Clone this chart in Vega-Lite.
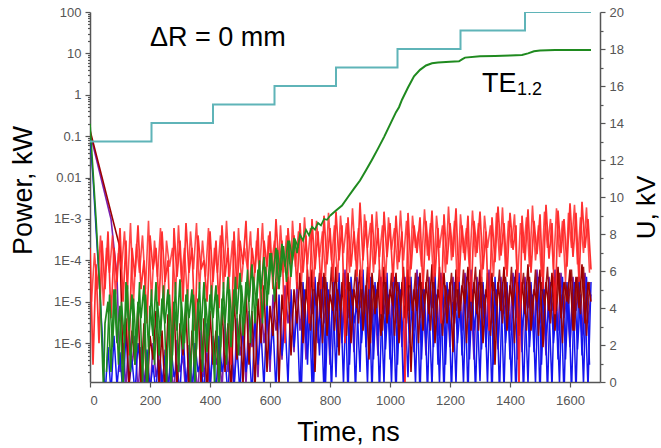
{
"$schema": "https://vega.github.io/schema/vega-lite/v6.json",
"width": 510, "height": 370,
"autosize": {"type": "none"},
"padding": {"left": 90, "top": 12, "right": 61, "bottom": 66},
"background": "white",
"config": {
 "view": {"stroke": null},
 "font": "Liberation Sans",
 "axis": {"grid": false, "labelFont": "Liberation Sans", "labelFontSize": 13, "labelColor": "#555555", "domainColor": "#555555", "domainWidth": 1.5, "tickColor": "#555555", "tickWidth": 1.2, "titleFont": "Liberation Sans", "titleFontWeight": "normal", "titleColor": "#000000", "titleFontSize": 27}
},
"datasets": {
 "red": [{"t":0,"p":2e-4},{"t":10,"p":3e-7},{"t":20,"p":8e-5},{"t":30,"p":1e-6},{"t":40,"p":3e-4},{"t":50,"p":2e-5},{"t":60,"p":5e-4},{"t":70,"p":4e-6},{"t":80,"p":2e-4},{"t":90,"p":3e-5},{"t":100,"p":6e-4},{"t":110,"p":1e-5},{"t":120,"p":3e-4},{"t":130,"p":5e-7},{"t":140,"p":2e-4},{"t":150,"p":4e-5},{"t":160,"p":7e-4},{"t":170,"p":2e-5},{"t":180,"p":1e-4},{"t":190,"p":3e-6},{"t":200,"p":4e-4},{"t":210,"p":6e-5},{"t":220,"p":2e-4},{"t":230,"p":8e-6},{"t":240,"p":5e-4},{"t":250,"p":3e-5},{"t":260,"p":1e-4},{"t":270,"p":2e-7},{"t":280,"p":6e-4},{"t":290,"p":4e-5},{"t":300,"p":3e-4},{"t":310,"p":1e-5},{"t":320,"p":8e-4},{"t":330,"p":5e-5},{"t":340,"p":2e-4},{"t":350,"p":2e-6},{"t":360,"p":4e-4},{"t":370,"p":6e-5},{"t":380,"p":1e-4},{"t":390,"p":1e-5},{"t":400,"p":5e-4},{"t":410,"p":3e-5},{"t":420,"p":3e-4},{"t":430,"p":7e-6},{"t":440,"p":7e-4},{"t":450,"p":4e-5},{"t":460,"p":2e-4},{"t":470,"p":3e-7},{"t":480,"p":5e-4},{"t":490,"p":2e-5},{"t":500,"p":3e-4},{"t":510,"p":8e-5},{"t":520,"p":9e-4},{"t":530,"p":1e-5},{"t":540,"p":2e-4},{"t":550,"p":5e-5},{"t":560,"p":6e-4},{"t":570,"p":4e-6},{"t":580,"p":3e-4},{"t":590,"p":7e-5},{"t":600,"p":5e-4},{"t":610,"p":2e-5},{"t":620,"p":1e-3},{"t":630,"p":6e-5},{"t":640,"p":3e-4},{"t":650,"p":1e-6},{"t":660,"p":6e-4},{"t":670,"p":8e-5},{"t":680,"p":4e-4},{"t":690,"p":2e-5},{"t":700,"p":8e-4},{"t":710,"p":5e-5},{"t":720,"p":4e-4},{"t":730,"p":3e-6},{"t":740,"p":1e-3},{"t":750,"p":6e-5},{"t":760,"p":5e-4},{"t":770,"p":2e-5},{"t":780,"p":1.2e-3},{"t":790,"p":8e-5},{"t":800,"p":6e-4},{"t":810,"p":3e-5},{"t":820,"p":1.5e-3},{"t":830,"p":1e-4},{"t":840,"p":7e-4},{"t":850,"p":1e-6},{"t":860,"p":1.1e-3},{"t":870,"p":7e-5},{"t":880,"p":5e-4},{"t":890,"p":4e-5},{"t":900,"p":2.5e-3},{"t":910,"p":1e-4},{"t":920,"p":9e-4},{"t":930,"p":2e-5},{"t":940,"p":1.3e-3},{"t":950,"p":8e-5},{"t":960,"p":6e-4},{"t":970,"p":5e-6},{"t":980,"p":1.5e-3},{"t":990,"p":1.2e-4},{"t":1000,"p":8e-4},{"t":1010,"p":3e-5},{"t":1020,"p":1.2e-3},{"t":1030,"p":9e-5},{"t":1040,"p":5e-4},{"t":1050,"p":1e-7},{"t":1060,"p":1.4e-3},{"t":1070,"p":6e-5},{"t":1080,"p":7e-4},{"t":1090,"p":1.5e-4},{"t":1100,"p":1.1e-3},{"t":1110,"p":2e-5},{"t":1120,"p":9e-4},{"t":1130,"p":1e-4},{"t":1140,"p":1.6e-3},{"t":1150,"p":4e-5},{"t":1160,"p":6e-4},{"t":1170,"p":3e-6},{"t":1180,"p":1.3e-3},{"t":1190,"p":8e-5},{"t":1200,"p":8e-4},{"t":1210,"p":1.2e-4},{"t":1220,"p":1.8e-3},{"t":1230,"p":3e-5},{"t":1240,"p":7e-4},{"t":1250,"p":1e-4},{"t":1260,"p":1.2e-3},{"t":1270,"p":1e-5},{"t":1280,"p":9e-4},{"t":1290,"p":1.5e-4},{"t":1300,"p":1.5e-3},{"t":1310,"p":6e-5},{"t":1320,"p":5e-4},{"t":1330,"p":2e-6},{"t":1340,"p":1.1e-3},{"t":1350,"p":9e-5},{"t":1360,"p":2e-3},{"t":1370,"p":1.3e-4},{"t":1380,"p":8e-4},{"t":1390,"p":4e-5},{"t":1400,"p":1.4e-3},{"t":1410,"p":1.8e-4},{"t":1420,"p":7e-4},{"t":1430,"p":8e-8},{"t":1440,"p":1.2e-3},{"t":1450,"p":1e-4},{"t":1460,"p":1.7e-3},{"t":1470,"p":5e-5},{"t":1480,"p":9e-4},{"t":1490,"p":1.4e-4},{"t":1500,"p":1.3e-3},{"t":1510,"p":2e-5},{"t":1520,"p":2.2e-3},{"t":1530,"p":1.1e-4},{"t":1540,"p":8e-4},{"t":1550,"p":5e-6},{"t":1560,"p":1.6e-3},{"t":1570,"p":1.5e-4},{"t":1580,"p":1e-3},{"t":1590,"p":7e-5},{"t":1600,"p":2.4e-3},{"t":1610,"p":1.2e-4},{"t":1620,"p":1.4e-3},{"t":1630,"p":3e-5},{"t":1640,"p":2.6e-3},{"t":1650,"p":2e-4},{"t":1660,"p":1e-3},{"t":1670,"p":6e-5}],
 "red2": [{"t":5,"p":1e-5},{"t":15,"p":1.5e-4},{"t":25,"p":2e-5},{"t":35,"p":4e-4},{"t":45,"p":8e-6},{"t":55,"p":2e-4},{"t":65,"p":5e-5},{"t":75,"p":4e-4},{"t":85,"p":1.5e-5},{"t":95,"p":1.5e-4},{"t":105,"p":6e-5},{"t":115,"p":5e-4},{"t":125,"p":2e-5},{"t":135,"p":8e-4},{"t":145,"p":1e-5},{"t":155,"p":2.5e-4},{"t":165,"p":5e-5},{"t":175,"p":4e-4},{"t":185,"p":2e-5},{"t":195,"p":9e-4},{"t":205,"p":1e-5},{"t":215,"p":3e-4},{"t":225,"p":4e-5},{"t":235,"p":6e-4},{"t":245,"p":5e-6},{"t":255,"p":3e-4},{"t":265,"p":7e-5},{"t":275,"p":2e-4},{"t":285,"p":1.5e-5},{"t":295,"p":7e-4},{"t":305,"p":3e-5},{"t":315,"p":2e-4},{"t":325,"p":1e-5},{"t":335,"p":5e-4},{"t":345,"p":6e-5},{"t":355,"p":8e-4},{"t":365,"p":2e-5},{"t":375,"p":3e-4},{"t":385,"p":4e-5},{"t":395,"p":6e-4},{"t":405,"p":1e-5},{"t":415,"p":2e-4},{"t":425,"p":5e-5},{"t":435,"p":4e-4},{"t":445,"p":2e-5},{"t":455,"p":9e-4},{"t":465,"p":4e-5},{"t":475,"p":3e-4},{"t":485,"p":8e-6},{"t":495,"p":6e-4},{"t":505,"p":3e-5},{"t":515,"p":2e-4},{"t":525,"p":6e-5},{"t":535,"p":5e-4},{"t":545,"p":1.5e-5},{"t":555,"p":3e-4},{"t":565,"p":5e-5},{"t":575,"p":8e-4},{"t":585,"p":2e-5},{"t":595,"p":4e-4},{"t":605,"p":8e-5},{"t":615,"p":3e-4},{"t":625,"p":2e-5},{"t":635,"p":7e-4},{"t":645,"p":5e-5},{"t":655,"p":4e-4},{"t":665,"p":1e-5},{"t":675,"p":9e-4},{"t":685,"p":7e-5},{"t":695,"p":5e-4},{"t":705,"p":3e-5},{"t":715,"p":1.1e-3},{"t":725,"p":8e-5},{"t":735,"p":6e-4},{"t":745,"p":2e-5},{"t":755,"p":9e-4},{"t":765,"p":1.2e-4},{"t":775,"p":5e-4},{"t":785,"p":4e-5},{"t":795,"p":1.4e-3},{"t":805,"p":1e-4},{"t":815,"p":7e-4},{"t":825,"p":3e-5},{"t":835,"p":1.2e-3},{"t":845,"p":1.5e-4},{"t":855,"p":8e-4},{"t":865,"p":5e-5},{"t":875,"p":1.8e-3},{"t":885,"p":1e-4},{"t":895,"p":6e-4},{"t":905,"p":2e-5},{"t":915,"p":1.3e-3},{"t":925,"p":2e-4},{"t":935,"p":8e-4},{"t":945,"p":5e-5},{"t":955,"p":1.5e-3},{"t":965,"p":1.2e-4},{"t":975,"p":7e-4},{"t":985,"p":3e-5},{"t":995,"p":1.1e-3},{"t":1005,"p":1.8e-4},{"t":1015,"p":6e-4},{"t":1025,"p":6e-5},{"t":1035,"p":1.6e-3},{"t":1045,"p":1e-4},{"t":1055,"p":9e-4},{"t":1065,"p":2.5e-5},{"t":1075,"p":1.2e-3},{"t":1085,"p":2e-4},{"t":1095,"p":5e-4},{"t":1105,"p":7e-5},{"t":1115,"p":1.7e-3},{"t":1125,"p":1.3e-4},{"t":1135,"p":8e-4},{"t":1145,"p":3e-5},{"t":1155,"p":1.2e-3},{"t":1165,"p":2e-4},{"t":1175,"p":7e-4},{"t":1185,"p":5e-5},{"t":1195,"p":2e-3},{"t":1205,"p":1e-4},{"t":1215,"p":9e-4},{"t":1225,"p":2e-5},{"t":1235,"p":1.3e-3},{"t":1245,"p":1.5e-4},{"t":1255,"p":6e-4},{"t":1265,"p":6e-5},{"t":1275,"p":1.6e-3},{"t":1285,"p":1.2e-4},{"t":1295,"p":8e-4},{"t":1305,"p":3e-5},{"t":1315,"p":1.2e-3},{"t":1325,"p":2e-4},{"t":1335,"p":7e-4},{"t":1345,"p":4e-5},{"t":1355,"p":1.4e-3},{"t":1365,"p":1e-4},{"t":1375,"p":1.9e-3},{"t":1385,"p":6e-5},{"t":1395,"p":9e-4},{"t":1405,"p":2e-4},{"t":1415,"p":1.3e-3},{"t":1425,"p":3e-5},{"t":1435,"p":8e-4},{"t":1445,"p":1.5e-4},{"t":1455,"p":1.1e-3},{"t":1465,"p":7e-5},{"t":1475,"p":2.1e-3},{"t":1485,"p":1e-4},{"t":1495,"p":7e-4},{"t":1505,"p":4e-5},{"t":1515,"p":1.5e-3},{"t":1525,"p":2e-4},{"t":1535,"p":1e-3},{"t":1545,"p":6e-5},{"t":1555,"p":1.8e-3},{"t":1565,"p":1.2e-4},{"t":1575,"p":9e-4},{"t":1585,"p":3e-5},{"t":1595,"p":1.4e-3},{"t":1605,"p":2e-4},{"t":1615,"p":2.2e-3},{"t":1625,"p":8e-5},{"t":1635,"p":1.1e-3},{"t":1645,"p":1.5e-4},{"t":1655,"p":1.9e-3},{"t":1665,"p":5e-5}],
 "blue": [{"t":0,"p":0.1},{"t":10,"p":1e-2},{"t":20,"p":6e-4},{"t":30,"p":4e-5},{"t":40,"p":2e-6},{"t":50,"p":5e-8},{"t":60,"p":8e-7},{"t":70,"p":6e-8},{"t":80,"p":1.5e-6},{"t":90,"p":9e-8},{"t":100,"p":6e-7},{"t":110,"p":5e-8},{"t":120,"p":2e-6},{"t":130,"p":1e-7},{"t":140,"p":4e-7},{"t":150,"p":6e-8},{"t":160,"p":1e-6},{"t":170,"p":2e-7},{"t":180,"p":5e-8},{"t":190,"p":7e-7},{"t":200,"p":8e-8},{"t":210,"p":3e-7},{"t":220,"p":6e-8},{"t":230,"p":1.2e-6},{"t":240,"p":1e-7},{"t":250,"p":5e-7},{"t":260,"p":5e-8},{"t":270,"p":8e-7},{"t":280,"p":1.5e-7},{"t":290,"p":3e-7},{"t":300,"p":6e-8},{"t":310,"p":2e-6},{"t":320,"p":9e-8},{"t":330,"p":6e-7},{"t":340,"p":5e-8},{"t":350,"p":1e-6},{"t":360,"p":2e-7},{"t":370,"p":4e-7},{"t":380,"p":5e-8},{"t":390,"p":3e-6},{"t":400,"p":1e-7},{"t":410,"p":7e-7},{"t":420,"p":6e-8},{"t":430,"p":1.5e-6},{"t":440,"p":2e-7},{"t":450,"p":5e-7},{"t":460,"p":5e-8},{"t":470,"p":2.5e-6},{"t":480,"p":1e-7},{"t":490,"p":8e-7},{"t":500,"p":6e-8},{"t":510,"p":4e-6},{"t":520,"p":2e-7},{"t":530,"p":1e-6},{"t":540,"p":5e-8},{"t":550,"p":6e-6},{"t":560,"p":3e-7},{"t":570,"p":2e-6},{"t":580,"p":8e-8},{"t":590,"p":1e-5},{"t":600,"p":4e-7},{"t":610,"p":3e-6},{"t":620,"p":6e-8},{"t":630,"p":1.5e-5},{"t":640,"p":5e-7},{"t":650,"p":4e-6},{"t":660,"p":1e-7},{"t":670,"p":2e-5},{"t":680,"p":8e-7},{"t":690,"p":6e-6},{"t":700,"p":5e-8},{"t":710,"p":3e-5},{"t":720,"p":1e-6},{"t":730,"p":1e-5},{"t":740,"p":1e-7},{"t":750,"p":4e-5},{"t":760,"p":2e-6},{"t":770,"p":8e-6},{"t":780,"p":6e-8},{"t":790,"p":3e-5},{"t":800,"p":5e-7},{"t":810,"p":1.5e-5},{"t":820,"p":1.5e-7},{"t":830,"p":5e-5},{"t":840,"p":1e-6},{"t":850,"p":2e-5},{"t":860,"p":5e-8},{"t":870,"p":4e-5},{"t":880,"p":3e-6},{"t":890,"p":9e-6},{"t":900,"p":2e-7},{"t":910,"p":6e-5},{"t":920,"p":8e-7},{"t":930,"p":2e-5},{"t":940,"p":6e-8},{"t":950,"p":3e-5},{"t":960,"p":1.5e-6},{"t":970,"p":1e-5},{"t":980,"p":1e-7},{"t":990,"p":5e-5},{"t":1000,"p":4e-7},{"t":1010,"p":1.5e-5},{"t":1020,"p":5e-8},{"t":1030,"p":3e-5},{"t":1040,"p":2e-6},{"t":1050,"p":8e-6},{"t":1060,"p":1.5e-7},{"t":1070,"p":4e-5},{"t":1080,"p":6e-7},{"t":1090,"p":2e-5},{"t":1100,"p":5e-8},{"t":1110,"p":3e-5},{"t":1120,"p":1e-6},{"t":1130,"p":7e-6},{"t":1140,"p":8e-8},{"t":1150,"p":5e-5},{"t":1160,"p":3e-7},{"t":1170,"p":1.2e-5},{"t":1180,"p":6e-8},{"t":1190,"p":3e-5},{"t":1200,"p":1.5e-6},{"t":1210,"p":1e-5},{"t":1220,"p":1e-7},{"t":1230,"p":4e-5},{"t":1240,"p":5e-7},{"t":1250,"p":2e-5},{"t":1260,"p":5e-8},{"t":1270,"p":6e-5},{"t":1280,"p":2e-6},{"t":1290,"p":9e-6},{"t":1300,"p":1.2e-7},{"t":1310,"p":3e-5},{"t":1320,"p":8e-7},{"t":1330,"p":1.5e-5},{"t":1340,"p":5e-8},{"t":1350,"p":4e-5},{"t":1360,"p":1e-6},{"t":1370,"p":2e-5},{"t":1380,"p":7e-8},{"t":1390,"p":3e-5},{"t":1400,"p":4e-7},{"t":1410,"p":1.2e-5},{"t":1420,"p":5e-8},{"t":1430,"p":5e-5},{"t":1440,"p":2e-6},{"t":1450,"p":1e-5},{"t":1460,"p":1e-7},{"t":1470,"p":3e-5},{"t":1480,"p":6e-7},{"t":1490,"p":2e-5},{"t":1500,"p":5e-8},{"t":1510,"p":4e-5},{"t":1520,"p":1.5e-6},{"t":1530,"p":8e-6},{"t":1540,"p":8e-8},{"t":1550,"p":6e-5},{"t":1560,"p":4e-7},{"t":1570,"p":1.5e-5},{"t":1580,"p":5e-8},{"t":1590,"p":3e-5},{"t":1600,"p":1e-6},{"t":1610,"p":2e-5},{"t":1620,"p":6e-8},{"t":1630,"p":4e-5},{"t":1640,"p":5e-7},{"t":1650,"p":1e-5},{"t":1660,"p":8e-8},{"t":1670,"p":3e-5}],
 "blue2": [{"t":705,"p":1e-7},{"t":715,"p":2e-5},{"t":725,"p":3e-7},{"t":735,"p":3e-5},{"t":745,"p":8e-8},{"t":755,"p":1e-5},{"t":765,"p":5e-7},{"t":775,"p":4e-5},{"t":785,"p":1e-7},{"t":795,"p":2e-5},{"t":805,"p":6e-8},{"t":815,"p":3e-5},{"t":825,"p":8e-7},{"t":835,"p":1.5e-5},{"t":845,"p":1e-7},{"t":855,"p":4e-5},{"t":865,"p":3e-7},{"t":875,"p":2e-5},{"t":885,"p":6e-8},{"t":895,"p":3e-5},{"t":905,"p":1e-6},{"t":915,"p":1e-5},{"t":925,"p":1e-7},{"t":935,"p":4e-5},{"t":945,"p":4e-7},{"t":955,"p":2e-5},{"t":965,"p":6e-8},{"t":975,"p":3e-5},{"t":985,"p":7e-7},{"t":995,"p":1.5e-5},{"t":1005,"p":1e-7},{"t":1015,"p":4e-5},{"t":1025,"p":3e-7},{"t":1035,"p":2e-5},{"t":1045,"p":6e-8},{"t":1055,"p":3e-5},{"t":1065,"p":1e-6},{"t":1075,"p":1e-5},{"t":1085,"p":1e-7},{"t":1095,"p":4e-5},{"t":1105,"p":4e-7},{"t":1115,"p":2e-5},{"t":1125,"p":6e-8},{"t":1135,"p":3e-5},{"t":1145,"p":8e-7},{"t":1155,"p":1.5e-5},{"t":1165,"p":1e-7},{"t":1175,"p":4e-5},{"t":1185,"p":3e-7},{"t":1195,"p":2e-5},{"t":1205,"p":6e-8},{"t":1215,"p":3e-5},{"t":1225,"p":1e-6},{"t":1235,"p":1e-5},{"t":1245,"p":1e-7},{"t":1255,"p":4e-5},{"t":1265,"p":4e-7},{"t":1275,"p":2e-5},{"t":1285,"p":6e-8},{"t":1295,"p":3e-5},{"t":1305,"p":7e-7},{"t":1315,"p":1.5e-5},{"t":1325,"p":1e-7},{"t":1335,"p":4e-5},{"t":1345,"p":3e-7},{"t":1355,"p":2e-5},{"t":1365,"p":6e-8},{"t":1375,"p":3e-5},{"t":1385,"p":1e-6},{"t":1395,"p":1e-5},{"t":1405,"p":1e-7},{"t":1415,"p":4e-5},{"t":1425,"p":4e-7},{"t":1435,"p":2e-5},{"t":1445,"p":6e-8},{"t":1455,"p":3e-5},{"t":1465,"p":8e-7},{"t":1475,"p":1.5e-5},{"t":1485,"p":1e-7},{"t":1495,"p":4e-5},{"t":1505,"p":3e-7},{"t":1515,"p":2e-5},{"t":1525,"p":6e-8},{"t":1535,"p":3e-5},{"t":1545,"p":1e-6},{"t":1555,"p":1e-5},{"t":1565,"p":1e-7},{"t":1575,"p":4e-5},{"t":1585,"p":4e-7},{"t":1595,"p":2e-5},{"t":1605,"p":6e-8},{"t":1615,"p":3e-5},{"t":1625,"p":7e-7},{"t":1635,"p":1.5e-5},{"t":1645,"p":1e-7},{"t":1655,"p":4e-5},{"t":1665,"p":3e-7}],
 "darkred": [{"t":0,"p":0.14},{"t":100,"p":2e-4},{"t":110,"p":3e-7},{"t":120,"p":4e-6},{"t":130,"p":8e-8},{"t":140,"p":2e-6},{"t":150,"p":3e-7},{"t":160,"p":8e-6},{"t":170,"p":1e-7},{"t":180,"p":3e-6},{"t":190,"p":5e-8},{"t":200,"p":1.5e-6},{"t":210,"p":4e-7},{"t":220,"p":6e-6},{"t":230,"p":1e-7},{"t":240,"p":2e-6},{"t":250,"p":6e-8},{"t":260,"p":5e-6},{"t":270,"p":2e-7},{"t":280,"p":1e-5},{"t":290,"p":8e-8},{"t":300,"p":3e-6},{"t":310,"p":5e-7},{"t":320,"p":7e-6},{"t":330,"p":6e-8},{"t":340,"p":2e-6},{"t":350,"p":2e-7},{"t":360,"p":1.2e-5},{"t":370,"p":1e-7},{"t":380,"p":4e-6},{"t":390,"p":5e-8},{"t":400,"p":6e-6},{"t":410,"p":3e-7},{"t":420,"p":2e-6},{"t":430,"p":7e-8},{"t":440,"p":9e-6},{"t":450,"p":2e-7},{"t":460,"p":3e-6},{"t":470,"p":6e-8},{"t":480,"p":1.5e-5},{"t":490,"p":4e-7},{"t":500,"p":5e-6},{"t":510,"p":1e-7},{"t":520,"p":2e-5},{"t":530,"p":3e-7},{"t":540,"p":6e-6},{"t":550,"p":8e-8},{"t":560,"p":1.2e-5},{"t":570,"p":1e-6},{"t":580,"p":2.5e-5},{"t":590,"p":2e-7},{"t":600,"p":8e-6},{"t":610,"p":1.5e-6},{"t":620,"p":3e-5},{"t":630,"p":1e-7},{"t":640,"p":1.5e-5},{"t":650,"p":2e-6},{"t":660,"p":4e-5},{"t":670,"p":5e-7},{"t":680,"p":2e-5},{"t":690,"p":3e-6},{"t":700,"p":5e-5},{"t":710,"p":1e-6},{"t":720,"p":2e-5},{"t":730,"p":5e-6},{"t":740,"p":6e-5},{"t":750,"p":2e-7},{"t":760,"p":3e-5},{"t":770,"p":4e-6},{"t":780,"p":5e-5},{"t":790,"p":1.5e-6},{"t":800,"p":1.5e-5},{"t":810,"p":6e-6},{"t":820,"p":7e-5},{"t":830,"p":5e-7},{"t":840,"p":3e-5},{"t":850,"p":3e-6},{"t":860,"p":5e-5},{"t":870,"p":1e-6},{"t":880,"p":2e-5},{"t":890,"p":7e-6},{"t":900,"p":6e-5},{"t":910,"p":2e-6},{"t":920,"p":2.5e-5},{"t":930,"p":4e-7},{"t":940,"p":5e-5},{"t":950,"p":5e-6},{"t":960,"p":3e-5},{"t":970,"p":1.5e-6},{"t":980,"p":7e-5},{"t":990,"p":3e-6},{"t":1000,"p":2e-5},{"t":1010,"p":8e-6},{"t":1020,"p":5e-5},{"t":1030,"p":1e-6},{"t":1040,"p":3e-5},{"t":1050,"p":4e-6},{"t":1060,"p":6e-5},{"t":1070,"p":2e-7},{"t":1080,"p":2e-5},{"t":1090,"p":6e-6},{"t":1100,"p":5e-5},{"t":1110,"p":2e-6},{"t":1120,"p":3e-5},{"t":1130,"p":5e-6},{"t":1140,"p":8e-5},{"t":1150,"p":1e-6},{"t":1160,"p":2e-5},{"t":1170,"p":7e-6},{"t":1180,"p":5e-5},{"t":1190,"p":3e-6},{"t":1200,"p":3e-5},{"t":1210,"p":6e-7},{"t":1220,"p":6e-5},{"t":1230,"p":4e-6},{"t":1240,"p":2.5e-5},{"t":1250,"p":9e-6},{"t":1260,"p":7e-5},{"t":1270,"p":2e-6},{"t":1280,"p":3e-5},{"t":1290,"p":5e-6},{"t":1300,"p":6e-5},{"t":1310,"p":1e-6},{"t":1320,"p":2e-5},{"t":1330,"p":8e-6},{"t":1340,"p":5e-5},{"t":1350,"p":3e-7},{"t":1360,"p":3e-5},{"t":1370,"p":6e-6},{"t":1380,"p":7e-5},{"t":1390,"p":2e-6},{"t":1400,"p":2.5e-5},{"t":1410,"p":8e-6},{"t":1420,"p":6e-5},{"t":1430,"p":1.5e-6},{"t":1440,"p":3e-5},{"t":1450,"p":5e-6},{"t":1460,"p":8e-5},{"t":1470,"p":2e-6},{"t":1480,"p":2e-5},{"t":1490,"p":1e-5},{"t":1500,"p":6e-5},{"t":1510,"p":8e-7},{"t":1520,"p":3e-5},{"t":1530,"p":6e-6},{"t":1540,"p":5e-5},{"t":1550,"p":2e-6},{"t":1560,"p":7e-5},{"t":1570,"p":4e-6},{"t":1580,"p":3e-5},{"t":1590,"p":1e-5},{"t":1600,"p":6e-5},{"t":1610,"p":2e-6},{"t":1620,"p":4e-5},{"t":1630,"p":7e-6},{"t":1640,"p":8e-5},{"t":1650,"p":3e-6},{"t":1660,"p":3e-5},{"t":1670,"p":1e-5}],
 "darkred2": [{"t":705,"p":3e-5},{"t":715,"p":4e-6},{"t":725,"p":6e-5},{"t":735,"p":2e-6},{"t":745,"p":3e-5},{"t":755,"p":8e-6},{"t":765,"p":5e-5},{"t":775,"p":1e-6},{"t":785,"p":4e-5},{"t":795,"p":5e-6},{"t":805,"p":7e-5},{"t":815,"p":2e-6},{"t":825,"p":2e-5},{"t":835,"p":6e-6},{"t":845,"p":5e-5},{"t":855,"p":1.5e-6},{"t":865,"p":3e-5},{"t":875,"p":8e-6},{"t":885,"p":6e-5},{"t":895,"p":3e-6},{"t":905,"p":4e-5},{"t":915,"p":5e-6},{"t":925,"p":7e-5},{"t":935,"p":1e-6},{"t":945,"p":2.5e-5},{"t":955,"p":7e-6},{"t":965,"p":6e-5},{"t":975,"p":2e-6},{"t":985,"p":4e-5},{"t":995,"p":5e-6},{"t":1005,"p":5e-5},{"t":1015,"p":1.5e-6},{"t":1025,"p":3e-5},{"t":1035,"p":8e-6},{"t":1045,"p":7e-5},{"t":1055,"p":3e-6},{"t":1065,"p":4e-5},{"t":1075,"p":6e-6},{"t":1085,"p":5e-5},{"t":1095,"p":1e-6},{"t":1105,"p":3e-5},{"t":1115,"p":9e-6},{"t":1125,"p":6e-5},{"t":1135,"p":2e-6},{"t":1145,"p":4e-5},{"t":1155,"p":5e-6},{"t":1165,"p":7e-5},{"t":1175,"p":1.5e-6},{"t":1185,"p":2.5e-5},{"t":1195,"p":8e-6},{"t":1205,"p":5e-5},{"t":1215,"p":3e-6},{"t":1225,"p":4e-5},{"t":1235,"p":6e-6},{"t":1245,"p":6e-5},{"t":1255,"p":1e-6},{"t":1265,"p":3e-5},{"t":1275,"p":9e-6},{"t":1285,"p":7e-5},{"t":1295,"p":2e-6},{"t":1305,"p":4e-5},{"t":1315,"p":5e-6},{"t":1325,"p":5e-5},{"t":1335,"p":1.5e-6},{"t":1345,"p":3e-5},{"t":1355,"p":8e-6},{"t":1365,"p":6e-5},{"t":1375,"p":3e-6},{"t":1385,"p":4e-5},{"t":1395,"p":6e-6},{"t":1405,"p":7e-5},{"t":1415,"p":1e-6},{"t":1425,"p":3e-5},{"t":1435,"p":9e-6},{"t":1445,"p":5e-5},{"t":1455,"p":2e-6},{"t":1465,"p":4e-5},{"t":1475,"p":5e-6},{"t":1485,"p":6e-5},{"t":1495,"p":1.5e-6},{"t":1505,"p":3e-5},{"t":1515,"p":8e-6},{"t":1525,"p":7e-5},{"t":1535,"p":3e-6},{"t":1545,"p":4e-5},{"t":1555,"p":6e-6},{"t":1565,"p":5e-5},{"t":1575,"p":1e-6},{"t":1585,"p":3e-5},{"t":1595,"p":9e-6},{"t":1605,"p":6e-5},{"t":1615,"p":2e-6},{"t":1625,"p":4e-5},{"t":1635,"p":5e-6},{"t":1645,"p":7e-5},{"t":1655,"p":1.5e-6},{"t":1665,"p":3e-5}],
 "purple": [{"t":0,"p":0.12},{"t":70,"p":1e-3},{"t":90,"p":4e-5},{"t":100,"p":2e-7},{"t":110,"p":1e-6},{"t":120,"p":8e-8},{"t":130,"p":2e-6},{"t":140,"p":3e-7},{"t":150,"p":1.5e-6},{"t":160,"p":6e-8},{"t":170,"p":8e-7},{"t":180,"p":1e-7},{"t":190,"p":5e-7},{"t":200,"p":5e-8},{"t":210,"p":1e-6},{"t":220,"p":1.5e-7},{"t":230,"p":4e-7},{"t":240,"p":5e-8},{"t":250,"p":7e-7},{"t":260,"p":1e-7},{"t":270,"p":3e-7},{"t":280,"p":6e-8},{"t":290,"p":1.2e-6},{"t":300,"p":2e-7},{"t":310,"p":5e-7},{"t":320,"p":5e-8},{"t":330,"p":9e-7},{"t":340,"p":1e-7},{"t":350,"p":3e-7},{"t":360,"p":6e-8},{"t":370,"p":2e-6},{"t":380,"p":1.5e-7},{"t":390,"p":6e-7},{"t":400,"p":5e-8},{"t":410,"p":1.5e-6},{"t":420,"p":3e-7},{"t":430,"p":8e-7},{"t":440,"p":7e-8},{"t":450,"p":3e-6},{"t":460,"p":2e-7},{"t":470,"p":1e-6},{"t":480,"p":6e-8},{"t":490,"p":4e-6},{"t":500,"p":5e-7},{"t":510,"p":2e-6},{"t":520,"p":1e-7},{"t":530,"p":6e-6},{"t":540,"p":8e-7},{"t":550,"p":3e-6},{"t":560,"p":1.5e-7},{"t":570,"p":1e-5},{"t":580,"p":1e-6},{"t":590,"p":5e-6},{"t":600,"p":2e-7},{"t":610,"p":1.5e-5},{"t":620,"p":2e-6},{"t":630,"p":7e-6},{"t":640,"p":4e-7},{"t":650,"p":2.5e-5},{"t":660,"p":3e-6},{"t":670,"p":1e-5},{"t":680,"p":6e-7},{"t":690,"p":3e-5},{"t":700,"p":2e-6},{"t":710,"p":1.5e-5},{"t":720,"p":4e-7},{"t":730,"p":4e-5},{"t":740,"p":5e-6},{"t":750,"p":2e-5},{"t":760,"p":1e-6},{"t":770,"p":5e-5},{"t":780,"p":3e-6},{"t":790,"p":1.2e-5},{"t":800,"p":3e-7},{"t":810,"p":4e-5},{"t":820,"p":6e-6},{"t":830,"p":2.5e-5},{"t":840,"p":1.5e-6},{"t":850,"p":6e-5},{"t":860,"p":4e-6},{"t":870,"p":1.5e-5},{"t":880,"p":6e-7},{"t":890,"p":4e-5},{"t":900,"p":7e-6},{"t":910,"p":2e-5},{"t":920,"p":2e-6},{"t":930,"p":5e-5},{"t":940,"p":3e-6},{"t":950,"p":1e-5},{"t":960,"p":5e-7},{"t":970,"p":4e-5},{"t":980,"p":5e-6},{"t":990,"p":2e-5},{"t":1000,"p":1.5e-6},{"t":1010,"p":5e-5},{"t":1020,"p":3e-6},{"t":1030,"p":1.5e-5},{"t":1040,"p":8e-7},{"t":1050,"p":4e-5},{"t":1060,"p":6e-6},{"t":1070,"p":2.5e-5},{"t":1080,"p":2e-6},{"t":1090,"p":6e-5},{"t":1100,"p":4e-6},{"t":1110,"p":1.5e-5},{"t":1120,"p":5e-7},{"t":1130,"p":4e-5},{"t":1140,"p":7e-6},{"t":1150,"p":2e-5},{"t":1160,"p":1.5e-6},{"t":1170,"p":5e-5},{"t":1180,"p":3e-6},{"t":1190,"p":1.2e-5},{"t":1200,"p":8e-7},{"t":1210,"p":4e-5},{"t":1220,"p":6e-6},{"t":1230,"p":2e-5},{"t":1240,"p":2e-6},{"t":1250,"p":5e-5},{"t":1260,"p":4e-6},{"t":1270,"p":1.5e-5},{"t":1280,"p":4e-7},{"t":1290,"p":4e-5},{"t":1300,"p":7e-6},{"t":1310,"p":2.5e-5},{"t":1320,"p":1.5e-6},{"t":1330,"p":6e-5},{"t":1340,"p":3e-6},{"t":1350,"p":1.2e-5},{"t":1360,"p":7e-7},{"t":1370,"p":4e-5},{"t":1380,"p":5e-6},{"t":1390,"p":2e-5},{"t":1400,"p":2e-6},{"t":1410,"p":5e-5},{"t":1420,"p":4e-6},{"t":1430,"p":1.5e-5},{"t":1440,"p":6e-7},{"t":1450,"p":4e-5},{"t":1460,"p":7e-6},{"t":1470,"p":2.5e-5},{"t":1480,"p":1.5e-6},{"t":1490,"p":6e-5},{"t":1500,"p":3e-6},{"t":1510,"p":1.2e-5},{"t":1520,"p":5e-7},{"t":1530,"p":4e-5},{"t":1540,"p":6e-6},{"t":1550,"p":2e-5},{"t":1560,"p":2e-6},{"t":1570,"p":5e-5},{"t":1580,"p":4e-6},{"t":1590,"p":1.5e-5},{"t":1600,"p":8e-7},{"t":1610,"p":4e-5},{"t":1620,"p":6e-6},{"t":1630,"p":2e-5},{"t":1640,"p":1.5e-6},{"t":1650,"p":5e-5},{"t":1660,"p":3e-6},{"t":1670,"p":1.5e-5}],
 "greenNoise": [{"t":0,"p":0.2},{"t":20,"p":1e-3},{"t":35,"p":1e-5},{"t":45,"p":8e-8},{"t":50,"p":3e-6},{"t":60,"p":1e-5},{"t":70,"p":2e-7},{"t":80,"p":2e-5},{"t":90,"p":1e-6},{"t":100,"p":8e-6},{"t":110,"p":6e-8},{"t":120,"p":3e-5},{"t":130,"p":2e-6},{"t":140,"p":1.5e-5},{"t":150,"p":3e-7},{"t":160,"p":1e-5},{"t":170,"p":4e-6},{"t":180,"p":2.5e-5},{"t":190,"p":5e-8},{"t":200,"p":8e-6},{"t":210,"p":1.5e-6},{"t":220,"p":3e-5},{"t":230,"p":5e-7},{"t":240,"p":1.2e-5},{"t":250,"p":3e-6},{"t":260,"p":2e-5},{"t":270,"p":8e-8},{"t":280,"p":1e-5},{"t":290,"p":2e-6},{"t":300,"p":3.5e-5},{"t":310,"p":7e-7},{"t":320,"p":1.5e-5},{"t":330,"p":4e-6},{"t":340,"p":2e-5},{"t":350,"p":1e-7},{"t":360,"p":1e-5},{"t":370,"p":2e-6},{"t":380,"p":3e-5},{"t":390,"p":6e-7},{"t":400,"p":1.5e-5},{"t":410,"p":4e-6},{"t":420,"p":2.5e-5},{"t":430,"p":6e-8},{"t":440,"p":1.2e-5},{"t":450,"p":3e-6},{"t":460,"p":4e-5},{"t":470,"p":8e-7},{"t":480,"p":2e-5},{"t":490,"p":5e-6},{"t":500,"p":5e-5},{"t":510,"p":1.5e-6},{"t":520,"p":3e-5},{"t":530,"p":1e-5},{"t":540,"p":8e-5},{"t":550,"p":3e-6},{"t":560,"p":6e-5},{"t":570,"p":2e-5},{"t":580,"p":1.2e-4},{"t":590,"p":8e-6},{"t":600,"p":1.5e-4},{"t":610,"p":4e-5},{"t":620,"p":2e-4},{"t":630,"p":2e-5},{"t":640,"p":2.5e-4},{"t":650,"p":7e-5},{"t":660,"p":3e-4},{"t":670,"p":4e-5},{"t":680,"p":3.5e-4},{"t":690,"p":1.5e-4},{"t":700,"p":4.2e-4},{"t":710,"p":3e-4},{"t":720,"p":5.5e-4},{"t":730,"p":4e-4},{"t":740,"p":6.5e-4},{"t":750,"p":5.5e-4},{"t":760,"p":8e-4},{"t":770,"p":7e-4},{"t":780,"p":1e-3},{"t":790,"p":9.5e-4},{"t":800,"p":1.2e-3}],
 "green2": [{"t":55,"p":2e-7},{"t":65,"p":1.5e-5},{"t":75,"p":8e-7},{"t":85,"p":2e-5},{"t":95,"p":3e-7},{"t":105,"p":1e-5},{"t":115,"p":1e-6},{"t":125,"p":2.5e-5},{"t":135,"p":2e-7},{"t":145,"p":1.2e-5},{"t":155,"p":6e-7},{"t":165,"p":3e-5},{"t":175,"p":1e-7},{"t":185,"p":1.5e-5},{"t":195,"p":8e-7},{"t":205,"p":2e-5},{"t":215,"p":3e-7},{"t":225,"p":1e-5},{"t":235,"p":1.5e-6},{"t":245,"p":2.5e-5},{"t":255,"p":1e-7},{"t":265,"p":1.5e-5},{"t":275,"p":5e-7},{"t":285,"p":3e-5},{"t":295,"p":2e-7},{"t":305,"p":1e-5},{"t":315,"p":1e-6},{"t":325,"p":2e-5},{"t":335,"p":1e-7},{"t":345,"p":1.5e-5},{"t":355,"p":7e-7},{"t":365,"p":3e-5},{"t":375,"p":2e-7},{"t":385,"p":1.2e-5},{"t":395,"p":1.5e-6},{"t":405,"p":2.5e-5},{"t":415,"p":1e-7},{"t":425,"p":1.5e-5},{"t":435,"p":8e-7},{"t":445,"p":3e-5},{"t":455,"p":3e-7},{"t":465,"p":2e-5},{"t":475,"p":2e-6},{"t":485,"p":4e-5},{"t":495,"p":5e-7},{"t":505,"p":2.5e-5},{"t":515,"p":3e-6},{"t":525,"p":6e-5},{"t":535,"p":1e-6},{"t":545,"p":4e-5},{"t":555,"p":8e-6},{"t":565,"p":1e-4},{"t":575,"p":3e-6},{"t":585,"p":7e-5},{"t":595,"p":1.5e-5},{"t":605,"p":1.5e-4},{"t":615,"p":1e-5},{"t":625,"p":1.8e-4},{"t":635,"p":4e-5},{"t":645,"p":2.2e-4},{"t":655,"p":3e-5},{"t":665,"p":3e-4},{"t":675,"p":1e-4},{"t":685,"p":3e-4},{"t":695,"p":2e-4}],
 "greenCurve": [{"t":800,"p":1.2e-3},{"t":820,"p":1.6e-3},{"t":840,"p":2.1e-3},{"t":860,"p":3.4e-3},{"t":880,"p":5.4e-3},{"t":900,"p":8.5e-3},{"t":920,"p":0.015},{"t":940,"p":0.027},{"t":960,"p":0.05},{"t":980,"p":0.095},{"t":1000,"p":0.19},{"t":1020,"p":0.38},{"t":1030,"p":0.5},{"t":1040,"p":0.76},{"t":1060,"p":1.5},{"t":1080,"p":2.8},{"t":1100,"p":4.0},{"t":1120,"p":5.1},{"t":1140,"p":5.75},{"t":1160,"p":6.0},{"t":1200,"p":6.3},{"t":1230,"p":6.45},{"t":1240,"p":7.2},{"t":1250,"p":7.9},{"t":1300,"p":8.5},{"t":1350,"p":8.7},{"t":1400,"p":8.9},{"t":1440,"p":9.1},{"t":1460,"p":10},{"t":1480,"p":11.2},{"t":1500,"p":11.7},{"t":1550,"p":12},{"t":1670,"p":12}],
 "volt": [{"t":0,"v":13},{"t":205,"v":14},{"t":410,"v":15},{"t":615,"v":16},{"t":820,"v":17},{"t":1025,"v":18},{"t":1235,"v":19},{"t":1450,"v":20},{"t":1670,"v":20}],
 "labels": [{"t":200,"p":15,"label":"ΔR = 0 mm","size":27},{"t":1307,"p":1.16,"label":"TE","size":27},{"t":1423,"p":0.98,"label":"1.2","size":18}]
},
"layer": [
 {
  "encoding": {
   "x": {"field": "t", "type": "quantitative", "scale": {"domain": [0, 1700], "nice": false, "zero": false},
    "axis": {"title": "Time, ns", "values": [0,100,200,300,400,500,600,700,800,900,1000,1100,1200,1300,1400,1500,1600], "format": "d", "labelExpr": "datum.value % 200 === 0 ? datum.label : ''", "tickSize": {"condition": {"test": "datum.value % 200 === 0", "value": 5}, "value": 3}, "labelPadding": 7, "titleX": 258, "titleY": 58, "titleAlign": "center", "titleBaseline": "alphabetic"}},
   "y": {"field": "p", "type": "quantitative", "scale": {"type": "log", "domain": [1.15e-7, 100], "nice": false},
    "axis": {"title": "Power, kW", "values": [2e-7,3e-7,4e-7,5e-7,6e-7,7e-7,8e-7,9e-7,1e-6,2e-6,3e-6,4e-6,5e-6,6e-6,7e-6,8e-6,9e-6,1e-5,2e-5,3e-5,4e-5,5e-5,6e-5,7e-5,8e-5,9e-5,1e-4,2e-4,3e-4,4e-4,5e-4,6e-4,7e-4,8e-4,9e-4,1e-3,2e-3,3e-3,4e-3,5e-3,6e-3,7e-3,8e-3,9e-3,0.01,0.02,0.03,0.04,0.05,0.06,0.07,0.08,0.09,0.1,0.2,0.3,0.4,0.5,0.6,0.7,0.8,0.9,1,2,3,4,5,6,7,8,9,10,20,30,40,50,60,70,80,90,100],
     "labelExpr": "indexof([1e-6,1e-5,1e-4,1e-3,0.01,0.1,1,10,100], datum.value) >= 0 ? (datum.value >= 0.01 ? format(datum.value, '') : '1E' + round(log(datum.value)/LN10)) : ''",
     "tickSize": {"condition": {"test": "indexof([1e-6,1e-5,1e-4,1e-3,0.01,0.1,1,10,100], datum.value) >= 0", "value": 5}, "value": 2.5},
     "labelPadding": 4, "titleX": -59, "titleY": 178, "titleAngle": 270, "titleAlign": "center", "titleBaseline": "alphabetic"}}
  },
  "layer": [
   {"data": {"name": "purple"}, "mark": {"type": "line", "color": "#7a1fb0", "strokeWidth": 1.6, "clip": true}},
   {"data": {"name": "blue"}, "mark": {"type": "line", "color": "#1414ee", "strokeWidth": 1.5, "clip": true}},
   {"data": {"name": "blue2"}, "mark": {"type": "line", "color": "#1414ee", "strokeWidth": 1.5, "clip": true}},
   {"data": {"name": "darkred"}, "mark": {"type": "line", "color": "#9b0000", "strokeWidth": 1.6, "clip": true}},
   {"data": {"name": "darkred2"}, "mark": {"type": "line", "color": "#9b0000", "strokeWidth": 1.5, "opacity": 0.9, "clip": true}},
   {"data": {"name": "red"}, "mark": {"type": "line", "color": "#ff1a1a", "strokeWidth": 1.7, "opacity": 0.9, "clip": true}},
   {"data": {"name": "red2"}, "mark": {"type": "line", "color": "#ff2a2a", "strokeWidth": 1.6, "opacity": 0.85, "clip": true}},
   {"data": {"name": "greenNoise"}, "mark": {"type": "line", "color": "#1f8a1f", "strokeWidth": 1.7, "clip": true}},
   {"data": {"name": "green2"}, "mark": {"type": "line", "color": "#1f8a1f", "strokeWidth": 1.5, "clip": true}},
   {"data": {"name": "greenCurve"}, "mark": {"type": "line", "color": "#1f8a1f", "strokeWidth": 2, "clip": true}},
   {"data": {"name": "labels"}, "mark": {"type": "text", "align": "left", "baseline": "alphabetic", "font": "Liberation Sans", "color": "#000000"},
    "encoding": {"text": {"field": "label"}, "size": {"field": "size", "type": "quantitative", "scale": null}}}
  ]
 },
 {
  "data": {"name": "volt"},
  "mark": {"type": "line", "interpolate": "step-after", "color": "#5fb4b8", "strokeWidth": 2, "clip": true},
  "encoding": {
   "x": {"field": "t", "type": "quantitative", "scale": {"domain": [0, 1700], "nice": false, "zero": false}},
   "y": {"field": "v", "type": "quantitative", "scale": {"domain": [0, 20], "nice": false},
    "axis": {"orient": "right", "title": "U, kV", "values": [0,1,2,3,4,5,6,7,8,9,10,11,12,13,14,15,16,17,18,19,20], "labelExpr": "datum.value % 2 === 0 ? datum.label : ''", "tickSize": {"condition": {"test": "datum.value % 2 === 0", "value": 5}, "value": 3}, "labelPadding": 4, "titleFontSize": 26, "titleX": 54, "titleY": 195, "titleAngle": 270, "titleAlign": "center", "titleBaseline": "alphabetic"}}
  }
 }
],
"resolve": {"scale": {"y": "independent"}}
}
